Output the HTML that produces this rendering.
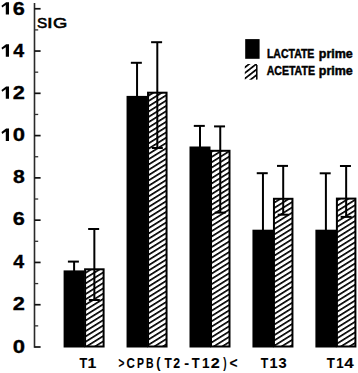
<!DOCTYPE html>
<html><head><meta charset="utf-8"><style>
html,body{margin:0;padding:0;background:#fff;width:358px;height:373px;overflow:hidden;}
svg{display:block;}
text{font-family:"Liberation Sans",sans-serif;}
</style></head><body><svg width="358" height="373" viewBox="0 0 358 373"><rect x="0" y="0" width="358" height="373" fill="#fff"/><defs><pattern id="h" patternUnits="userSpaceOnUse" width="20" height="4.495" patternTransform="rotate(-32) translate(0 -2.8)"><rect x="0" y="0" width="20" height="4.495" fill="#fff"/><rect x="0" y="0" width="20" height="1.663" fill="#000"/></pattern><pattern id="hl" patternUnits="userSpaceOnUse" width="20" height="4.4" patternTransform="rotate(-38) translate(0 0.6)"><rect x="0" y="0" width="20" height="4.4" fill="#fff"/><rect x="0" y="0" width="20" height="1.7" fill="#000"/></pattern></defs><line x1="34.5" y1="3" x2="34.5" y2="347.8" stroke="#2a2a2a" stroke-width="1.6"/><line x1="34.5" y1="347.00" x2="40.6" y2="347.00" stroke="#111" stroke-width="1.7"/><line x1="34.5" y1="325.86" x2="38.2" y2="325.86" stroke="#333" stroke-width="1.3"/><line x1="34.5" y1="304.72" x2="40.6" y2="304.72" stroke="#111" stroke-width="1.7"/><line x1="34.5" y1="283.58" x2="38.2" y2="283.58" stroke="#333" stroke-width="1.3"/><line x1="34.5" y1="262.44" x2="40.6" y2="262.44" stroke="#111" stroke-width="1.7"/><line x1="34.5" y1="241.30" x2="38.2" y2="241.30" stroke="#333" stroke-width="1.3"/><line x1="34.5" y1="220.16" x2="40.6" y2="220.16" stroke="#111" stroke-width="1.7"/><line x1="34.5" y1="199.02" x2="38.2" y2="199.02" stroke="#333" stroke-width="1.3"/><line x1="34.5" y1="177.88" x2="40.6" y2="177.88" stroke="#111" stroke-width="1.7"/><line x1="34.5" y1="156.74" x2="38.2" y2="156.74" stroke="#333" stroke-width="1.3"/><line x1="34.5" y1="135.60" x2="40.6" y2="135.60" stroke="#111" stroke-width="1.7"/><line x1="34.5" y1="114.46" x2="38.2" y2="114.46" stroke="#333" stroke-width="1.3"/><line x1="34.5" y1="93.32" x2="40.6" y2="93.32" stroke="#111" stroke-width="1.7"/><line x1="34.5" y1="72.18" x2="38.2" y2="72.18" stroke="#333" stroke-width="1.3"/><line x1="34.5" y1="51.04" x2="40.6" y2="51.04" stroke="#111" stroke-width="1.7"/><line x1="34.5" y1="29.90" x2="38.2" y2="29.90" stroke="#333" stroke-width="1.3"/><line x1="34.5" y1="8.76" x2="40.6" y2="8.76" stroke="#111" stroke-width="1.7"/><text transform="translate(12.73 352.50) scale(1.240 1)" font-size="17.8" font-weight="bold" fill="#000" stroke="#000" stroke-width="0.3">0</text><text transform="translate(12.84 309.80) scale(1.225 1)" font-size="17.8" font-weight="bold" fill="#000" stroke="#000" stroke-width="0.3">2</text><text transform="translate(13.30 267.60) scale(1.101 1)" font-size="17.8" font-weight="bold" fill="#000" stroke="#000" stroke-width="0.3">4</text><text transform="translate(12.80 225.45) scale(1.220 1)" font-size="17.8" font-weight="bold" fill="#000" stroke="#000" stroke-width="0.3">6</text><text transform="translate(12.92 182.60) scale(1.195 1)" font-size="17.8" font-weight="bold" fill="#000" stroke="#000" stroke-width="0.3">8</text><text transform="translate(12.73 141.00) scale(1.240 1)" font-size="17.8" font-weight="bold" fill="#000" stroke="#000" stroke-width="0.3">0</text><path d="M9.00,128.60 L9.00,141.00 L5.80,141.00 L5.80,131.50 L2.20,133.90 L1.50,132.10 L6.10,128.60 Z" fill="#000"/><text transform="translate(12.84 98.80) scale(1.225 1)" font-size="17.8" font-weight="bold" fill="#000" stroke="#000" stroke-width="0.3">2</text><path d="M9.00,86.40 L9.00,98.80 L5.80,98.80 L5.80,89.30 L2.20,91.70 L1.50,89.90 L6.10,86.40 Z" fill="#000"/><text transform="translate(13.30 56.70) scale(1.101 1)" font-size="17.8" font-weight="bold" fill="#000" stroke="#000" stroke-width="0.3">4</text><path d="M9.00,44.30 L9.00,56.70 L5.80,56.70 L5.80,47.20 L2.20,49.60 L1.50,47.80 L6.10,44.30 Z" fill="#000"/><text transform="translate(12.80 14.60) scale(1.220 1)" font-size="17.8" font-weight="bold" fill="#000" stroke="#000" stroke-width="0.3">6</text><path d="M9.00,2.20 L9.00,14.60 L5.80,14.60 L5.80,5.10 L2.20,7.50 L1.50,5.70 L6.10,2.20 Z" fill="#000"/><text transform="translate(37.11 27.50) scale(0.993 1)" font-size="15.4" font-weight="normal" fill="#000" stroke="#000" stroke-width="0.6">S</text><text transform="translate(47.12 27.50) scale(1.323 1)" font-size="15.4" font-weight="normal" fill="#000" stroke="#000" stroke-width="0.6">I</text><text transform="translate(53.08 27.50) scale(1.194 1)" font-size="15.4" font-weight="normal" fill="#000" stroke="#000" stroke-width="0.6">G</text><line x1="74.10" y1="261.60" x2="74.10" y2="271.40" stroke="#000" stroke-width="2.0"/><line x1="67.90" y1="261.60" x2="78.90" y2="261.60" stroke="#000" stroke-width="2.0"/><rect x="63.60" y="270.40" width="21.0" height="77.10" fill="#000"/><rect x="85.10" y="269.30" width="18.5" height="77.20" fill="url(#h)" stroke="#000" stroke-width="2"/><line x1="94.35" y1="229.00" x2="94.35" y2="300.00" stroke="#000" stroke-width="2.0"/><line x1="88.15" y1="229.00" x2="99.15" y2="229.00" stroke="#000" stroke-width="2.0"/><line x1="88.85" y1="300.00" x2="99.85" y2="300.00" stroke="#000" stroke-width="2.0"/><line x1="137.05" y1="62.80" x2="137.05" y2="96.90" stroke="#000" stroke-width="2.0"/><line x1="130.85" y1="62.80" x2="141.85" y2="62.80" stroke="#000" stroke-width="2.0"/><rect x="126.55" y="95.90" width="21.0" height="251.60" fill="#000"/><rect x="148.05" y="92.70" width="18.5" height="253.80" fill="url(#h)" stroke="#000" stroke-width="2"/><line x1="157.30" y1="42.20" x2="157.30" y2="148.00" stroke="#000" stroke-width="2.0"/><line x1="151.10" y1="42.20" x2="162.10" y2="42.20" stroke="#000" stroke-width="2.0"/><line x1="151.80" y1="148.00" x2="162.80" y2="148.00" stroke="#000" stroke-width="2.0"/><line x1="200.00" y1="125.90" x2="200.00" y2="147.50" stroke="#000" stroke-width="2.0"/><line x1="193.80" y1="125.90" x2="204.80" y2="125.90" stroke="#000" stroke-width="2.0"/><rect x="189.50" y="146.50" width="21.0" height="201.00" fill="#000"/><rect x="211.00" y="150.80" width="18.5" height="195.70" fill="url(#h)" stroke="#000" stroke-width="2"/><line x1="220.25" y1="126.40" x2="220.25" y2="212.60" stroke="#000" stroke-width="2.0"/><line x1="214.05" y1="126.40" x2="225.05" y2="126.40" stroke="#000" stroke-width="2.0"/><line x1="214.75" y1="212.60" x2="225.75" y2="212.60" stroke="#000" stroke-width="2.0"/><line x1="262.95" y1="173.20" x2="262.95" y2="230.70" stroke="#000" stroke-width="2.0"/><line x1="256.75" y1="173.20" x2="267.75" y2="173.20" stroke="#000" stroke-width="2.0"/><rect x="252.45" y="229.70" width="21.0" height="117.80" fill="#000"/><rect x="273.95" y="198.80" width="18.5" height="147.70" fill="url(#h)" stroke="#000" stroke-width="2"/><line x1="283.20" y1="165.90" x2="283.20" y2="214.70" stroke="#000" stroke-width="2.0"/><line x1="277.00" y1="165.90" x2="288.00" y2="165.90" stroke="#000" stroke-width="2.0"/><line x1="277.70" y1="214.70" x2="288.70" y2="214.70" stroke="#000" stroke-width="2.0"/><line x1="325.90" y1="173.30" x2="325.90" y2="230.70" stroke="#000" stroke-width="2.0"/><line x1="319.70" y1="173.30" x2="330.70" y2="173.30" stroke="#000" stroke-width="2.0"/><rect x="315.40" y="229.70" width="21.0" height="117.80" fill="#000"/><rect x="336.90" y="198.60" width="18.5" height="147.90" fill="url(#h)" stroke="#000" stroke-width="2"/><line x1="346.15" y1="166.00" x2="346.15" y2="216.90" stroke="#000" stroke-width="2.0"/><line x1="339.95" y1="166.00" x2="350.95" y2="166.00" stroke="#000" stroke-width="2.0"/><line x1="340.65" y1="216.90" x2="351.65" y2="216.90" stroke="#000" stroke-width="2.0"/><rect x="245.2" y="39.1" width="14.4" height="19.7" fill="#000"/><rect x="244.8" y="64" width="12.2" height="15.7" fill="url(#hl)"/><line x1="256.8" y1="65" x2="256.8" y2="79.5" stroke="#000" stroke-width="1.5"/><text transform="translate(266.90 58.00) scale(0.863 1)" font-size="12.2" font-weight="bold" stroke="#000" stroke-width="0.45">LACTATE</text><text transform="translate(318.78 58.00) scale(1.025 1)" font-size="12.2" font-weight="bold" stroke="#000" stroke-width="0.45">prime</text><text transform="translate(266.64 74.60) scale(0.867 1)" font-size="12.2" font-weight="bold" stroke="#000" stroke-width="0.45">ACETATE</text><text transform="translate(318.78 74.60) scale(1.025 1)" font-size="12.2" font-weight="bold" stroke="#000" stroke-width="0.45">prime</text><text transform="translate(79.46 367.70) scale(0.838 1)" font-size="15.0" font-weight="bold" fill="#000" stroke="#000" stroke-width="0.1">T</text><text transform="translate(87.60 367.70) scale(1.060 1)" font-size="15.0" font-weight="bold" fill="#000" stroke="#000" stroke-width="0.1">1</text><text transform="translate(118.47 367.70) scale(0.678 1)" font-size="15.0" font-weight="bold" fill="#000" stroke="#000" stroke-width="0.1">&gt;</text><text transform="translate(126.52 367.70) scale(0.775 1)" font-size="15.0" font-weight="bold" fill="#000" stroke="#000" stroke-width="0.1">C</text><text transform="translate(136.90 367.70) scale(0.695 1)" font-size="15.0" font-weight="bold" fill="#000" stroke="#000" stroke-width="0.1">P</text><text transform="translate(145.90 367.70) scale(0.700 1)" font-size="15.0" font-weight="bold" fill="#000" stroke="#000" stroke-width="0.1">B</text><text transform="translate(156.26 367.70) scale(0.850 1)" font-size="15.0" font-weight="bold" fill="#000" stroke="#000" stroke-width="0.1">(</text><text transform="translate(164.57 367.70) scale(0.792 1)" font-size="15.0" font-weight="bold" fill="#000" stroke="#000" stroke-width="0.1">T</text><text transform="translate(173.18 367.70) scale(0.817 1)" font-size="15.0" font-weight="bold" fill="#000" stroke="#000" stroke-width="0.1">2</text><text transform="translate(184.23 367.70) scale(0.971 1)" font-size="15.0" font-weight="bold" fill="#000" stroke="#000" stroke-width="0.1">-</text><text transform="translate(191.76 367.70) scale(0.860 1)" font-size="15.0" font-weight="bold" fill="#000" stroke="#000" stroke-width="0.1">T</text><text transform="translate(201.95 367.70) scale(0.903 1)" font-size="15.0" font-weight="bold" fill="#000" stroke="#000" stroke-width="0.1">1</text><text transform="translate(210.84 367.70) scale(1.080 1)" font-size="15.0" font-weight="bold" fill="#000" stroke="#000" stroke-width="0.1">2</text><text transform="translate(223.19 367.70) scale(0.661 1)" font-size="15.0" font-weight="bold" fill="#000" stroke="#000" stroke-width="0.1">)</text><text transform="translate(229.62 367.70) scale(0.917 1)" font-size="15.0" font-weight="bold" fill="#000" stroke="#000" stroke-width="0.1">&lt;</text><text transform="translate(260.66 367.70) scale(0.815 1)" font-size="15.0" font-weight="bold" fill="#000" stroke="#000" stroke-width="0.1">T</text><text transform="translate(269.38 367.70) scale(0.974 1)" font-size="15.0" font-weight="bold" fill="#000" stroke="#000" stroke-width="0.1">1</text><text transform="translate(278.46 367.70) scale(0.979 1)" font-size="15.0" font-weight="bold" fill="#000" stroke="#000" stroke-width="0.1">3</text><text transform="translate(326.75 367.70) scale(0.883 1)" font-size="15.0" font-weight="bold" fill="#000" stroke="#000" stroke-width="0.1">T</text><text transform="translate(336.16 367.70) scale(0.888 1)" font-size="15.0" font-weight="bold" fill="#000" stroke="#000" stroke-width="0.1">1</text><text transform="translate(344.24 367.70) scale(1.133 1)" font-size="15.0" font-weight="bold" fill="#000" stroke="#000" stroke-width="0.1">4</text></svg></body></html>
